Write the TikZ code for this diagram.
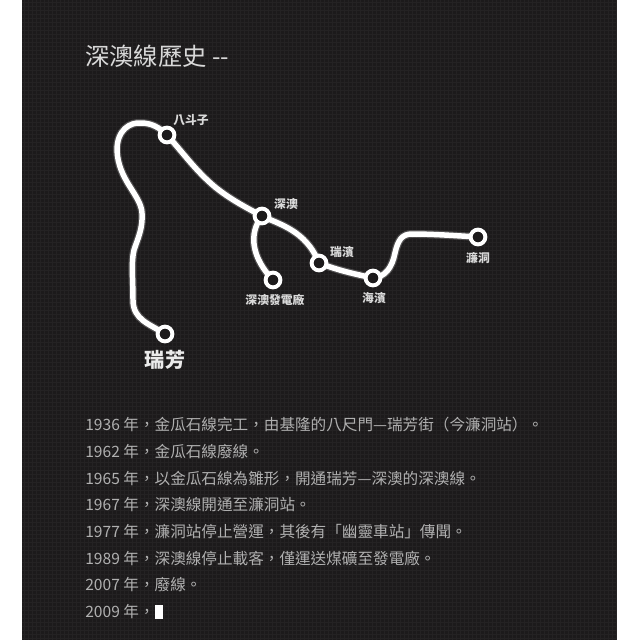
\documentclass[tikz,border=0pt]{standalone}
\usepackage{fontspec}
\setmainfont{Noto Sans CJK TC}
\usepackage{tikz}
\definecolor{panelbg}{HTML}{1C1A1B}
\definecolor{panelgrid}{HTML}{242223}
\definecolor{titletxt}{HTML}{D8D8D8}
\definecolor{bodytxt}{HTML}{B0B0B0}
\newcommand{\fwc}{\char"FF0C\relax}
\newcommand{\fwl}{\char"FF08\relax}
\newcommand{\fwr}{\char"FF09\relax}
\begin{document}
\begin{tikzpicture}[
    x=0.025cm, y=-0.025cm,
    railglow/.style={draw=white, line width=5.6pt, opacity=0.22, line cap=round, line join=round},
    rail/.style={draw=white, line width=3.9pt, line cap=round, line join=round},
    stn/.style={circle, draw=white, fill=panelbg, line width=2.8pt, minimum size=10.5pt, inner sep=0pt},
    stnlab/.style={font=\fontsize{8.4}{9}\selectfont\bfseries, text=white!85!black, inner sep=0pt},
    hist/.style={font=\fontsize{11.1}{12}\selectfont, text=bodytxt, anchor=west, inner sep=0pt}
  ]
    \useasboundingbox (0,0) rectangle (640,640);
    \fill[white] (0,0) rectangle (640,640);
    \fill[panelbg] (22,0) rectangle (617,640);
    \foreach \i in {0,...,148} {
      \draw[panelgrid, line width=0.5pt] ({24+4*\i},0) -- ({24+4*\i},640);
    }
    \foreach \j in {0,...,159} {
      \draw[panelgrid, line width=0.5pt] (22,{2+4*\j}) -- (617,{2+4*\j});
    }
    % stations
    \coordinate (ruifang) at (165,334);
    \coordinate (badouzi) at (167,135);
    \coordinate (shenao) at (262,216);
    \coordinate (plant) at (273,280);
    \coordinate (ruibin) at (319,263);
    \coordinate (haibin) at (373,278);
    \coordinate (liandong) at (478,237);
    % line, glow first
    \foreach \sty in {railglow, rail} {
      \draw[\sty] (ruifang) .. controls (150,324) and (133,320) .. (133,300)
        .. controls (133,280) and (131,262) .. (134,250)
        .. controls (138,238) and (143,228) .. (142,213)
        .. controls (141,195) and (118,180) .. (117,150)
        .. controls (117,130) and (130,122) .. (141,123)
        .. controls (152,123) and (160,128) .. (badouzi)
        .. controls (185,155) and (195,170) .. (215,187)
        .. controls (230,199) and (245,207) .. (shenao)
        .. controls (278,224) and (306,230) .. (ruibin)
        .. controls (340,271) and (355,274) .. (haibin)
        .. controls (385,277) and (392,268) .. (395,253)
        .. controls (398,240) and (402,234) .. (412,234)
        .. controls (435,234) and (460,236) .. (liandong);
      \draw[\sty] (shenao) .. controls (248,234) and (252,258) .. (plant);
    }
    \node[stn] (n1) at (ruifang) {};
    \node[stn] (n2) at (badouzi) {};
    \node[stn] (n3) at (shenao) {};
    \node[stn] (n4) at (plant) {};
    \node[stn] (n5) at (ruibin) {};
    \node[stn] (n6) at (haibin) {};
    \node[stn] (n7) at (liandong) {};
    \node[stnlab] (l2) at (191,120) {八斗子};
    \node[stnlab] (l3) at (286,204) {深澳};
    \node[stnlab] (l4) at (275,300) {深澳發電廠};
    \node[stnlab] (l5) at (342,252) {瑞濱};
    \node[stnlab] (l6) at (374,298) {海濱};
    \node[stnlab] (l7) at (478,258) {濂洞};
    \node[font=\fontsize{14.3}{16}\selectfont\bfseries, text=white!92!black, inner sep=0pt] (l1) at (165,360) {瑞芳};
    % title
    \node[font=\fontsize{17.3}{19}\selectfont, text=titletxt, anchor=west, inner sep=0pt] (title) at (85,56) {深澳線歷史 {-}{-}};
    % history
    \node[hist] (h1) at (85,425) {1936 年\fwc 金瓜石線完工\fwc 由基隆的八尺門—瑞芳街\fwl 今濂洞站\fwr 。};
    \node[hist] (h2) at (85,452) {1962 年\fwc 金瓜石線廢線。};
    \node[hist] (h3) at (85,479) {1965 年\fwc 以金瓜石線為雛形\fwc 開通瑞芳—深澳的深澳線。};
    \node[hist] (h4) at (85,505) {1967 年\fwc 深澳線開通至濂洞站。};
    \node[hist] (h5) at (85,532) {1977 年\fwc 濂洞站停止營運\fwc 其後有「幽靈車站」傳聞。};
    \node[hist] (h6) at (85,558) {1989 年\fwc 深澳線停止載客\fwc 僅運送煤礦至發電廠。};
    \node[hist] (h7) at (85,585) {2007 年\fwc 廢線。};
    \node[hist] (h8) at (85,612) {2009 年\fwc};
    \fill[white] (155,605) rectangle (163,619);
  \end{tikzpicture}
\end{document}
